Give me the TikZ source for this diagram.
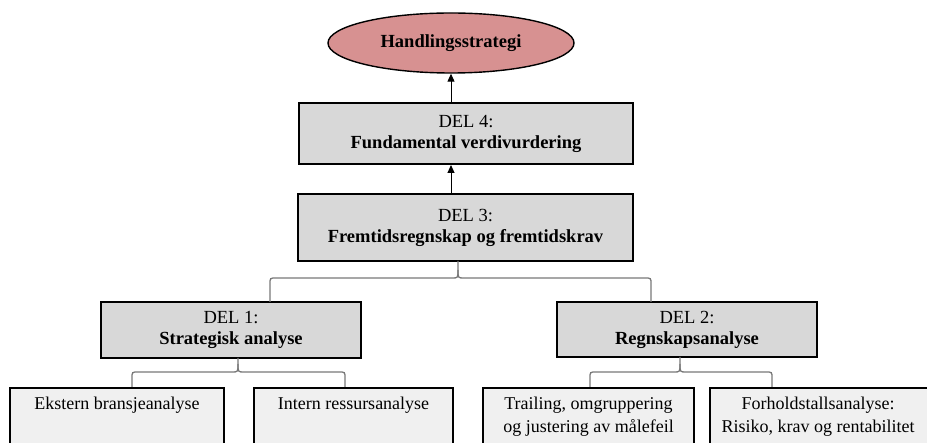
\documentclass[tikz,border=0pt]{standalone}
\usepackage{fontspec}
\setmainfont{Liberation Serif}
\usetikzlibrary{shapes.geometric,arrows.meta}
\definecolor{goalfill}{RGB}{215,145,145}
\definecolor{delfill}{RGB}{216,216,216}
\definecolor{subfill}{RGB}{240,240,240}
\definecolor{bracegray}{RGB}{120,120,120}
\tikzset{
  goal/.style={ellipse, draw=black, line width=1.4pt, fill=goalfill,
    minimum width=246, minimum height=60, inner sep=0pt,
    font=\fontsize{18.5}{21}\selectfont\bfseries},
  delbox/.style={rectangle, draw=black, line width=2pt, fill=delfill,
    align=center, inner sep=0pt, font=\fontsize{18.5}{21}\selectfont},
  subbox/.style={rectangle, draw=black, line width=2pt, fill=subfill,
    anchor=north west, inner sep=0pt},
  subtext/.style={anchor=north, align=center, inner sep=0pt,
    font=\fontsize{18}{23}\selectfont},
  arr/.style={line width=1pt, -{Triangle[length=8pt,width=7pt]}},
  bracket/.style={draw=bracegray, line width=1.3pt}
}
% curly split: #1 cusp tip, #2 left end, #3 right end, #4 bar level
\newcommand{\splitbrace}[4]{%
  \draw[bracket] (#2) -- ([yshift=-6]#2 |- 0,#4) .. controls (#2 |- 0,#4) .. ([xshift=6]#2 |- 0,#4)
    -- ([xshift=-6]#1 |- 0,#4) .. controls (#1 |- 0,#4) .. ([yshift=8]#1 |- 0,#4) -- (#1);
  \draw[bracket] (#3) -- ([yshift=-6]#3 |- 0,#4) .. controls (#3 |- 0,#4) .. ([xshift=-6]#3 |- 0,#4)
    -- ([xshift=6]#1 |- 0,#4) .. controls (#1 |- 0,#4) .. ([yshift=8]#1 |- 0,#4);
}
\begin{document}
\begin{tikzpicture}[x=1pt,y=-1pt]
\useasboundingbox (0,0) rectangle (927,443);
\clip (0,0) rectangle (927,443);

% goal
\node[goal] (goal) at (451,43) {Handlingsstrategi};

% main parts
\node[delbox, minimum width=334, minimum height=61] (d4) at (466,133.5)
  {DEL 4:\\\textbf{Fundamental verdivurdering}};
\node[delbox, minimum width=335, minimum height=67] (d3) at (465.5,227.5)
  {DEL 3:\\\textbf{Fremtidsregnskap og fremtidskrav}};
\node[delbox, minimum width=260, minimum height=56] (d1) at (231,330)
  {DEL 1:\\\textbf{Strategisk analyse}};
\node[delbox, minimum width=260, minimum height=55] (d2) at (687,329.5)
  {DEL 2:\\\textbf{Regnskapsanalyse}};

% sub analyses (boxes run on below the lower edge)
\node[subbox, minimum width=214, minimum height=90] (s1) at (9,387) {};
\node[subbox, minimum width=199, minimum height=90] (s2) at (253,387) {};
\node[subbox, minimum width=211, minimum height=90] (s3) at (482,387) {};
\node[subbox, minimum width=260, minimum height=90] (s4) at (709,387) {};
\node[subtext] (s1t) at ([yshift=-9.5]s1.north) {Ekstern bransjeanalyse};
\node[subtext] (s2t) at ([yshift=-9.5]s2.north) {Intern ressursanalyse};
\node[subtext] (s3t) at ([yshift=-9.5]s3.north) {Trailing, omgruppering\\og justering av målefeil};
\node[subtext] (s4t) at ([yshift=-9.5]818,387) {Forholdstallsanalyse:\\Risiko, krav og rentabilitet};

% arrows
\draw[arr] (goal.south |- d4.north) -- (goal.south);
\draw[arr] (goal.south |- d3.north) -- (goal.south |- d4.south);

% brace coordinates
\coordinate (c3) at (458,261);
\coordinate (c3l) at (270,302);
\coordinate (c3r) at (651,302);
\coordinate (c1) at (238,358);
\coordinate (c1l) at (132,387);
\coordinate (c1r) at (345,387);
\coordinate (c2) at (680,357);
\coordinate (c2l) at (590,387);
\coordinate (c2r) at (772,387);

\splitbrace{c3}{c3l}{c3r}{278}
\splitbrace{c1}{c1l}{c1r}{372}
\splitbrace{c2}{c2l}{c2r}{372}
\end{tikzpicture}
\end{document}
